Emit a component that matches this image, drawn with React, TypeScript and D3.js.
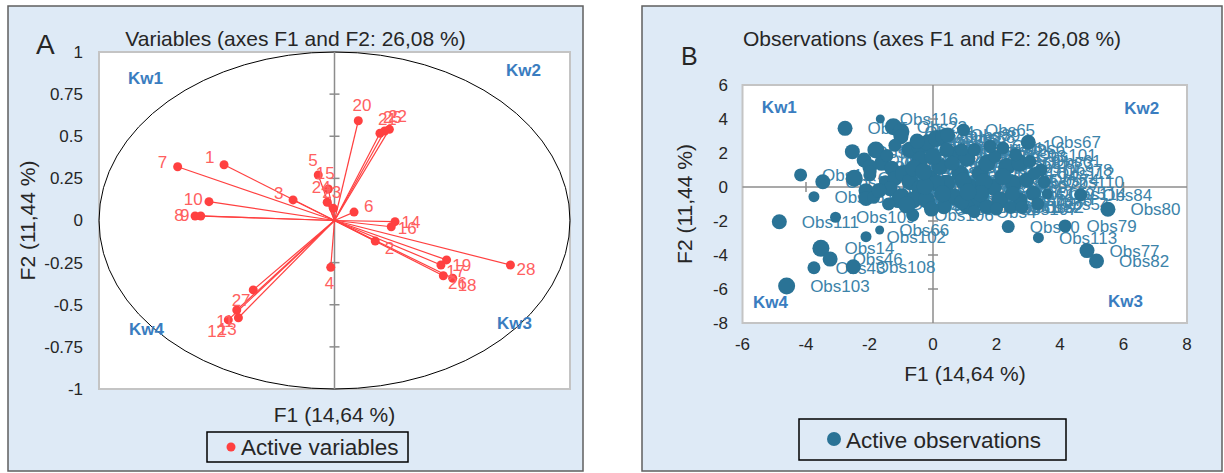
import React from 'react';
import * as d3 from 'd3';

// ---------- Panel A: variables (correlation circle) ----------
const varNames = ['1', '2', '3', '4', '5', '6', '7', '8', '9', '10', '11', '12', '13', '14', '15', '16', '17', '18', '19', '20', '21', '22', '23', '24', '25', '26', '27', '28'];
const varF1 = [-0.469, 0.173, -0.176, -0.016, -0.069, 0.083, -0.666, -0.592, -0.568, -0.533, -0.415, -0.451, -0.408, 0.257, -0.026, 0.241, 0.452, 0.502, 0.476, 0.101, 0.193, 0.233, -0.005, -0.031, 0.213, 0.462, -0.345, 0.747];
const varF2 = [0.331, -0.122, 0.122, -0.278, 0.270, 0.050, 0.319, 0.027, 0.027, 0.112, -0.531, -0.590, -0.577, -0.007, 0.187, -0.037, -0.264, -0.343, -0.234, 0.592, 0.518, 0.541, 0.072, 0.108, 0.531, -0.328, -0.412, -0.264];
const yTicksA = [1, 0.75, 0.5, 0.25, 0, -0.25, -0.5, -0.75, -1];
const quadLabels = ['Kw1', 'Kw2', 'Kw3', 'Kw4'];
const quadA_F1 = [-0.877, 0.728, 0.69, -0.873];
const quadA_F2 = [0.846, 0.893, -0.608, -0.644];

// ---------- Panel B: observations ----------
const obsNames = [
  'Obs116', 'Obs65', 'Obs67', 'Obs84', 'Obs80', 'Obs90', 'Obs79', 'Obs113', 'Obs77', 'Obs82',
  'Obs111', 'Obs109', 'Obs66', 'Obs102', 'Obs14', 'Obs46', 'Obs43', 'Obs108', 'Obs103', 'Obs106',
  'Obs5', 'Obs23', 'Obs24', 'Obs25', 'Obs62', 'Obs63', 'Obs7', 'Obs8', 'Obs9', 'Obs12',
  'Obs10', 'Obs11', 'Obs16', 'Obs17', 'Obs96', 'Obs19', 'Obs20', 'Obs21', 'Obs22', 'Obs26',
  'Obs27', 'Obs28', 'Obs29', 'Obs31', 'Obs32', 'Obs33', 'Obs34', 'Obs35', 'Obs36', 'Obs97',
  'Obs38', 'Obs39', 'Obs40', 'Obs41', 'Obs42', 'Obs44', 'Obs45', 'Obs47', 'Obs48', 'Obs49',
  'Obs50', 'Obs51', 'Obs53', 'Obs55', 'Obs56', 'Obs57', 'Obs58', 'Obs59', 'Obs60', 'Obs64',
  'Obs68', 'Obs69', 'Obs70', 'Obs71', 'Obs72', 'Obs73', 'Obs74', 'Obs75', 'Obs76', 'Obs81',
  'Obs83', 'Obs85', 'Obs86', 'Obs87', 'Obs88', 'Obs89', 'Obs91', 'Obs92', 'Obs93', 'Obs94',
  'Obs95', 'Obs37', 'Obs98', 'Obs99', 'Obs100', 'Obs61', 'Obs78', 'Obs54', 'Obs101', 'Obs104',
  'Obs105', 'Obs107', 'Obs52', 'Obs15', 'Obs110', 'Obs112', 'Obs114', 'Obs115', 'Obs1', 'Obs2',
  'Obs3', 'Obs4', 'Obs6', 'Obs13', 'Obs18', 'Obs30'
];
const obsF1 = [
  -1.66, 0.96, 3.0, 4.65, 5.51, 2.37, 4.16, 3.32, 4.85, 5.15,
  -4.84, -3.07, -1.68, -2.11, -3.53, -3.24, -3.75, -2.51, -4.61, -0.64,
  -2.77, -1.25, -1.01, -1.01, -2.54, -1.8, -2.17, -1.62, -1.99, -4.17,
  -3.47, -2.48, -1.99, -1.5, -3.75, -2.11, -2.11, -1.87, -1.98, -1.45,
  -1.3, -1.2, -1.35, -1.1, -1.4, -1.2, -0.72, -0.41, -0.15, 0.11,
  0.3, 0.46, -0.41, -0.93, -0.72, -0.41, -0.99, -0.62, -0.83, -0.2,
  -0.1, 0.22, 0.43, 0.65, 0.85, 0.75, 1.07, 1.17, 1.38, 1.49,
  1.7, 1.9, 2.11, 2.32, 2.53, 2.74, 2.95, 3.16, 2.74, 1.7,
  1.07, 0.34, 0.43, 0.11, -0.6, 0.0, 0.6, 1.3, 1.95, 2.2,
  1.6, 0.95, 0.3, -0.25, 2.5, 3.05, 3.4, 3.3, 2.6, 1.5,
  0.9, 2.0, 2.45, 0.9, 3.5, 3.2, 3.6, -0.5, 1.8, 2.8,
  -0.05, 1.3, 2.2, -1.7, -0.3, 1.1
];
const obsF2 = [
  4.0, 3.35, 2.63, -0.47, -1.31, -2.33, -2.29, -2.98, -3.74, -4.35,
  -2.04, -1.78, -2.53, -2.92, -3.61, -4.24, -4.75, -4.69, -5.82, -1.65,
  3.45, 3.55, 3.25, 2.96, 2.08, 2.18, 1.59, 1.39, 1.19, 0.71,
  0.31, 0.51, 0.71, 0.31, -0.57, -0.22, -0.67, -0.61, 0.9, 1.85,
  1.1, 0.5, -0.1, -0.8, -1.0, 2.45, 2.18, 2.37, 2.61, 2.86,
  2.96, 3.06, 1.59, 0.8, 0.31, -0.08, -0.57, -0.76, -1.06, -0.76,
  0.51, 1.2, 0.22, -0.57, 0.8, 1.98, 1.69, 0.0, -0.76, 0.8,
  1.39, 0.0, -0.76, 1.2, 0.22, 1.39, 0.41, -0.37, -0.76, -1.16,
  -1.16, -1.16, 2.18, 0.22, 1.1, 1.8, 1.4, 2.2, 1.8, 0.6,
  0.3, 0.35, -0.4, 0.05, -0.4, 1.5, 1.0, -1.0, 1.9, -0.4,
  -0.9, -1.3, -1.2, 2.2, 0.3, 0.8, -0.4, 2.7, 2.4, -1.2,
  -1.3, -1.45, 2.3, -0.2, 0.9, -0.3
];
const obsSize = [
  1, 2, 2.5, 2, 2.5, 2, 2, 1.5, 2.5, 2.5,
  2.5, 1.5, 1, 1.5, 3, 2.5, 2, 2.5, 3, 2,
  2.5, 3, 3, 2.5, 2.5, 3, 2.5, 2.5, 2.5, 2,
  2.5, 3, 2, 2, 1.5, 2.5, 2.5, 2, 2, 2,
  2.5, 2.5, 2.5, 2.5, 2, 2, 3, 3, 3, 3,
  2.5, 2.5, 3, 3, 3, 3, 3, 3, 3, 3,
  3, 3, 3, 3, 3, 2.5, 3, 3, 3, 3,
  3, 3, 3, 3, 3, 3, 2.5, 2.5, 2.5, 2.5,
  2.5, 2.5, 2.5, 3, 3, 3, 2.5, 2, 2, 3,
  3, 3, 3, 3, 2.5, 2, 2, 2, 2, 3,
  2.5, 2, 2, 2, 2, 2, 1.5, 2.5, 2, 2,
  2.5, 2, 2, 2.5, 3, 3
];
const xTicksB = [-6, -4, -2, 0, 2, 4, 6, 8];
const yTicksB = [6, 4, 2, 0, -2, -4, -6, -8];
const quadB_F1 = [-5.39, 6.02, 5.51, -5.67];
const quadB_F2 = [4.71, 4.65, -6.71, -6.76];

const FONT = '"Liberation Sans", Arial, sans-serif';
const PANEL_BG = '#DEEAF6';
const PANEL_STROKE = '#5f5f5f';
const TEXT = '#262626';
const RED = '#FF4040';
const RED_LABEL = '#FF6060';
const TEAL = '#2A7396';
const TEAL_LABEL = '#3C83A9';
const KW = '#3A7DC0';

function PanelA() {
  const x = d3.scaleLinear().domain([-1, 1]).range([99, 570]);
  const y = d3.scaleLinear().domain([-1, 1]).range([389, 52]);
  const cx = x(0);
  const cy = y(0);
  const pts = varNames.map((n, i) => ({ n, px: x(varF1[i]), py: y(varF2[i]) }));
  return (
    <g>
      <rect x={8} y={6} width={575} height={465} fill={PANEL_BG} stroke={PANEL_STROKE} strokeWidth={1.5} />
      <rect x={x(-1)} y={y(1)} width={x(1) - x(-1)} height={y(-1) - y(1)} fill="#fff" stroke="#c4c4c4" strokeWidth={2} />
      <text x={36} y={54} fontSize={28} fill={TEXT} fontFamily={FONT}>A</text>
      <text x={295.5} y={46} fontSize={21} textAnchor="middle" fill={TEXT} fontFamily={FONT}>Variables (axes F1 and F2: 26,08 %)</text>
      {yTicksA.map((t) => (
        <text key={t} x={83} y={y(t)} dy="0.35em" textAnchor="end" fontSize={17} fill={TEXT} fontFamily={FONT}>{String(t)}</text>
      ))}
      <ellipse cx={cx} cy={cy} rx={x(1) - cx} ry={cy - y(1)} fill="none" stroke="#000" strokeWidth={1} />
      <line x1={cx} x2={cx} y1={y(1)} y2={y(-1)} stroke="#8c8c8c" strokeWidth={1.5} />
      {yTicksA.filter((t) => Math.abs(t) < 1 && t !== 0).map((t) => (
        <line key={t} x1={cx - 5} x2={cx + 5} y1={y(t)} y2={y(t)} stroke="#8c8c8c" strokeWidth={1.5} />
      ))}
      {pts.map((p) => (
        <line key={'l' + p.n} x1={cx} y1={cy} x2={p.px} y2={p.py} stroke={RED} strokeWidth={1.2} />
      ))}
      {pts.map((p) => (
        <circle key={'c' + p.n} cx={p.px} cy={p.py} r={4.5} fill={RED} />
      ))}
      {pts.map((p) => {
        const dx = p.px - cx;
        const dy = p.py - cy;
        const len = Math.hypot(dx, dy) || 1;
        return (
          <text key={'t' + p.n} x={p.px + (16 * dx) / len} y={p.py + (16 * dy) / len} dy="0.35em" textAnchor="middle" fontSize={17} fill={RED_LABEL} fontFamily={FONT}>{p.n}</text>
        );
      })}
      {quadLabels.map((q, i) => (
        <text key={q} x={x(quadA_F1[i])} y={y(quadA_F2[i])} dy="0.35em" fontSize={17} fontWeight="bold" fill={KW} fontFamily={FONT}>{q}</text>
      ))}
      <text x={334.5} y={422} fontSize={21} textAnchor="middle" fill={TEXT} fontFamily={FONT}>F1 (14,64 %)</text>
      <text transform={`translate(35,${cy}) rotate(-90)`} fontSize={21} textAnchor="middle" fill={TEXT} fontFamily={FONT}>F2 (11,44 %)</text>
      <rect x={207} y={432} width={201} height={30} fill="none" stroke="#000" strokeWidth={1.5} />
      <circle cx={231} cy={447} r={4.5} fill={RED} />
      <text x={241} y={455} fontSize={22.5} fill={TEXT} fontFamily={FONT}>Active variables</text>
    </g>
  );
}

function PanelB() {
  const x = d3.scaleLinear().domain([-6, 8]).range([742.5, 1187]);
  const y = d3.scaleLinear().domain([-8, 6]).range([323, 85]);
  const r = d3.scaleLinear().domain([1, 3]).range([4.5, 8.5]);
  const cx = x(0);
  const cy = y(0);
  const pts = obsNames.map((n, i) => ({ n, px: x(obsF1[i]), py: y(obsF2[i]), rr: r(obsSize[i]) }));
  return (
    <g>
      <rect x={642} y={6} width={580} height={465} fill={PANEL_BG} stroke={PANEL_STROKE} strokeWidth={1.5} />
      <rect x={x(-6)} y={y(6)} width={x(8) - x(-6)} height={y(-8) - y(6)} fill="#fff" stroke="#c4c4c4" strokeWidth={2} />
      <text x={681} y={65} fontSize={25} fill={TEXT} fontFamily={FONT}>B</text>
      <text x={932} y={46} fontSize={21} textAnchor="middle" fill={TEXT} fontFamily={FONT}>Observations (axes F1 and F2: 26,08 %)</text>
      {yTicksB.map((t) => (
        <text key={t} x={728} y={y(t)} dy="0.35em" textAnchor="end" fontSize={17} fill={TEXT} fontFamily={FONT}>{String(t)}</text>
      ))}
      {xTicksB.map((t) => (
        <text key={t} x={x(t)} y={350} textAnchor="middle" fontSize={17} fill={TEXT} fontFamily={FONT}>{String(t)}</text>
      ))}
      <line x1={cx} x2={cx} y1={y(6)} y2={y(-8)} stroke="#8c8c8c" strokeWidth={1.5} />
      <line x1={x(-6)} x2={x(8)} y1={cy} y2={cy} stroke="#8c8c8c" strokeWidth={1.5} />
      {yTicksB.filter((t) => t !== 0 && t !== 6 && t !== -8).map((t) => (
        <line key={'yt' + t} x1={cx - 5} x2={cx + 5} y1={y(t)} y2={y(t)} stroke="#8c8c8c" strokeWidth={1.5} />
      ))}
      {xTicksB.filter((t) => t !== 0 && t !== -6 && t !== 8).map((t) => (
        <line key={'xt' + t} x1={x(t)} x2={x(t)} y1={cy - 5} y2={cy + 5} stroke="#8c8c8c" strokeWidth={1.5} />
      ))}
      {pts.map((p) => (
        <text key={'t' + p.n} x={p.px + p.rr + 15} y={p.py} dy="0.35em" fontSize={17} fill={TEAL_LABEL} fontFamily={FONT}>{p.n}</text>
      ))}
      {pts.map((p) => (
        <circle key={'c' + p.n} cx={p.px} cy={p.py} r={p.rr} fill={TEAL} />
      ))}
      {quadLabels.map((q, i) => (
        <text key={q} x={x(quadB_F1[i])} y={y(quadB_F2[i])} dy="0.35em" fontSize={17} fontWeight="bold" fill={KW} fontFamily={FONT}>{q}</text>
      ))}
      <text x={965} y={381} fontSize={21} textAnchor="middle" fill={TEXT} fontFamily={FONT}>F1 (14,64 %)</text>
      <text transform={`translate(692,${(y(6) + y(-8)) / 2}) rotate(-90)`} fontSize={21} textAnchor="middle" fill={TEXT} fontFamily={FONT}>F2 (11,44 %)</text>
      <rect x={799} y={419} width={267} height={41} fill="none" stroke="#000" strokeWidth={1.5} />
      <circle cx={834} cy={439} r={7} fill={TEAL} />
      <text x={846} y={448} fontSize={22.5} fill={TEXT} fontFamily={FONT}>Active observations</text>
    </g>
  );
}

export default function App() {
  return (
    <svg width={1224} height={473} style={{ position: 'absolute', left: 0, top: 0, background: '#fff' }}>
      <PanelA />
      <PanelB />
    </svg>
  );
}
